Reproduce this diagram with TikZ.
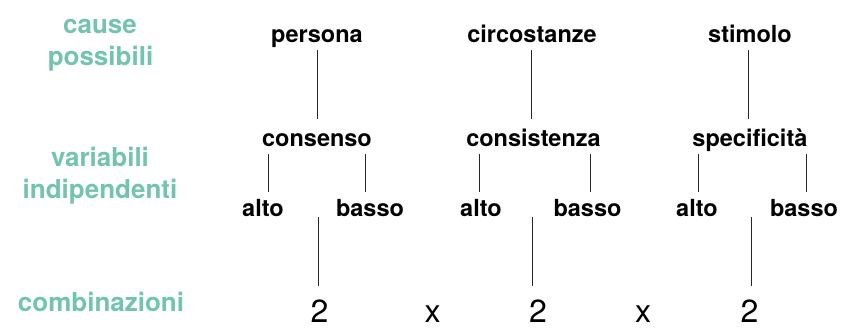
\documentclass[tikz,border=0pt]{standalone}
\usepackage{fontspec}
\setmainfont{TeX Gyre Heros}
\definecolor{labelteal}{RGB}{115,195,177}
\begin{document}
\begin{tikzpicture}[x=1pt,y=-1pt,
  lbl/.style={anchor=base,inner sep=0pt,outer sep=0pt,
    font=\fontsize{23.5}{28}\selectfont\bfseries},
  causebox/.style={lbl,text depth=8pt},
  varbox/.style={lbl,text height=27.7pt,text depth=7.3pt},
  lvlbox/.style={lbl,text height=24pt},
  numbox/.style={anchor=base,inner sep=0pt,outer sep=0pt,
    font=\fontsize{32}{38}\selectfont,text height=36pt},
  side/.style={anchor=base,inner sep=0pt,text=labelteal,
    font=\fontsize{26}{32}\selectfont\bfseries},
  link/.style={line width=0.9pt,black!85}]
\useasboundingbox (0,0) rectangle (843,327);

% row titles
\node[side] (s1a) at (100,33) {cause};
\node[side] (s1b) at (100.5,65) {possibili};
\node[side] (s2a) at (100,166) {variabili};
\node[side] (s2b) at (100,198) {indipendenti};
\node[side] (s3) at (101,311) {combinazioni};

% possible causes
\node[causebox] (c1) at (317,42) {persona};
\node[causebox] (c2) at (532,42) {circostanze};
\node[causebox] (c3) at (750,42) {stimolo};

% independent variables
\node[varbox] (v1) at (317,146.7) {consenso};
\node[varbox] (v2) at (533.5,146.7) {consistenza};
\node[varbox] (v3) at (750,146.7) {specificità};

% levels
\node[lvlbox] (a1) at (263,216) {alto};
\node[lvlbox] (b1) at (370,216) {basso};
\node[lvlbox] (a2) at (481,216) {alto};
\node[lvlbox] (b2) at (587.5,216) {basso};
\node[lvlbox] (a3) at (697,216) {alto};
\node[lvlbox] (b3) at (804,216) {basso};

% combinations
\node[numbox] (n1) at (319.5,322) {2};
\node[numbox] (x1) at (432.5,322) {x};
\node[numbox] (n2) at (538,322) {2};
\node[numbox] (x2) at (643,322) {x};
\node[numbox] (n3) at (749.5,322) {2};

% x positions of the connectors
\coordinate (t1) at (317,0);
\coordinate (t2) at (531.7,0);
\coordinate (t3) at (748,0);
\coordinate (ka1) at (268,0);
\coordinate (kb1) at (365,0);
\coordinate (ka2) at (479,0);
\coordinate (kb2) at (590,0);
\coordinate (ka3) at (698,0);
\coordinate (kb3) at (806,0);
\coordinate (m1) at (318,217);
\coordinate (m2) at (532,217);
\coordinate (m3) at (751,217);

% cause -> variable
\draw[link] (c1.south -| t1) -- (v1.north -| t1);
\draw[link] (c2.south -| t2) -- (v2.north -| t2);
\draw[link] (c3.south -| t3) -- (v3.north -| t3);

% variable -> levels
\draw[link] (v1.south -| ka1) -- (a1.north -| ka1);
\draw[link] (v1.south -| kb1) -- (b1.north -| kb1);
\draw[link] (v2.south -| ka2) -- (a2.north -| ka2);
\draw[link] (v2.south -| kb2) -- (b2.north -| kb2);
\draw[link] (v3.south -| ka3) -- (a3.north -| ka3);
\draw[link] (v3.south -| kb3) -- (b3.north -| kb3);

% levels -> count
\draw[link] (m1) -- (n1.north -| m1);
\draw[link] (m2) -- (n2.north -| m2);
\draw[link] (m3) -- (n3.north -| m3);
\end{tikzpicture}
\end{document}
